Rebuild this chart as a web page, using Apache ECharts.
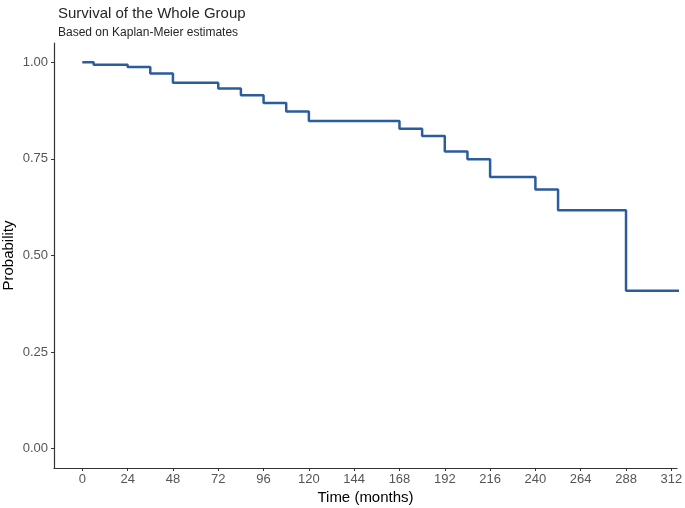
<!DOCTYPE html>
<html>
<head>
<meta charset="utf-8">
<script src="https://cdn.jsdelivr.net/npm/echarts@6/dist/echarts.min.js"></script>
<style>
html,body{margin:0;padding:0;background:#fff;}
#chart{width:685px;height:508px;}
</style>
</head>
<body>
<div id="chart"></div>
<script>
// Kaplan-Meier step data (time in months, survival probability)
var times = [0, 6, 24, 36, 48, 72, 84, 96, 108, 120, 168, 180, 192, 204, 216, 240, 252, 288, 318];
var survival = [1.000, 0.994, 0.988, 0.971, 0.947, 0.932, 0.915, 0.895, 0.873, 0.848, 0.828, 0.809, 0.769, 0.749, 0.703, 0.671, 0.617, 0.409, 0.409];
var xTicks = [0, 24, 48, 72, 96, 120, 144, 168, 192, 216, 240, 264, 288, 312];
var yTicks = [0, 0.25, 0.5, 0.75, 1.0];

var titleText = 'Survival of the Whole Group';
var subtitleText = 'Based on Kaplan-Meier estimates';
var xName = 'Time (months)';
var yName = 'Probability';

var points = times.map(function (t, i) { return [t, survival[i]]; });

var font = 'Arial, "Liberation Sans", sans-serif';
var chart = echarts.init(document.getElementById('chart'), null, {renderer: 'canvas'});
chart.setOption({
  animation: false,
  backgroundColor: '#ffffff',
  title: {
    text: titleText,
    subtext: subtitleText,
    left: 53,
    top: 1,
    itemGap: 6,
    textStyle: {fontFamily: font, fontSize: 15, fontWeight: 'normal', color: '#262626'},
    subtextStyle: {fontFamily: font, fontSize: 12, color: '#262626'}
  },
  grid: {left: 54, right: 8, top: 43, bottom: 40, containLabel: false, outerBoundsMode: 'none'},
  xAxis: {
    type: 'value',
    min: -15,
    max: 315,
    name: xName,
    nameLocation: 'middle',
    nameGap: 22,
    nameMoveOverlap: false,
    nameTextStyle: {fontFamily: font, fontSize: 15, color: '#000'},
    axisLine: {show: true, onZero: false, lineStyle: {color: '#333', width: 1.2}},
    axisTick: {show: true, customValues: xTicks, length: 3, lineStyle: {color: '#333'}},
    axisLabel: {customValues: xTicks, margin: 5, fontFamily: font, fontSize: 13, color: '#555'},
    splitLine: {show: false}
  },
  yAxis: {
    type: 'value',
    min: -0.05,
    max: 1.05,
    name: yName,
    nameLocation: 'middle',
    nameRotate: 90,
    nameGap: 38,
    nameMoveOverlap: false,
    nameTextStyle: {fontFamily: font, fontSize: 15, color: '#000'},
    axisLine: {show: true, onZero: false, lineStyle: {color: '#333', width: 1.2}},
    axisTick: {show: true, customValues: yTicks, length: 3, lineStyle: {color: '#333'}},
    axisLabel: {customValues: yTicks, margin: 6, fontFamily: font, fontSize: 13, color: '#555',
      formatter: function (v) { return v.toFixed(2); }},
    splitLine: {show: false}
  },
  series: [{
    type: 'line',
    step: 'end',
    data: points,
    symbol: 'none',
    clip: true,
    lineStyle: {color: '#2b5c9b', width: 2.5}
  }]
});
</script>
</body>
</html>
